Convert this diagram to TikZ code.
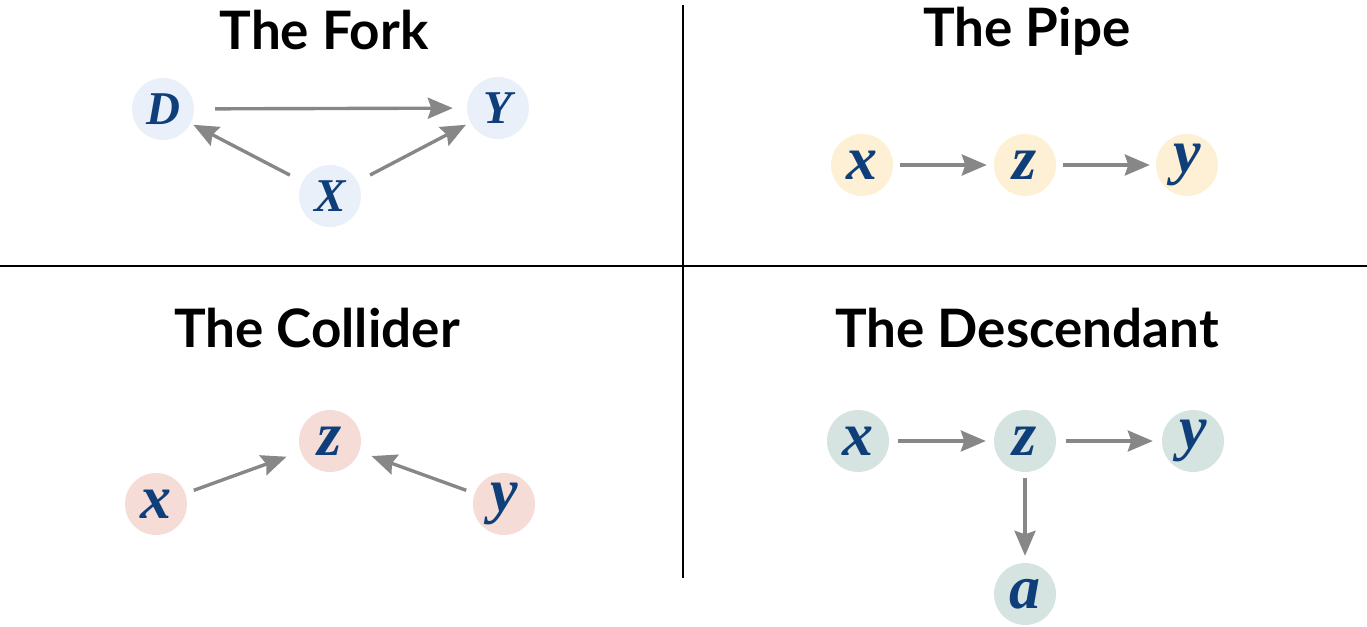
\documentclass[tikz,border=0pt]{standalone}
\usepackage{fontspec}
\usetikzlibrary{arrows.meta}
\newfontfamily\titlefont{Lato}
\newfontfamily\varfont{Liberation Serif}
\definecolor{forkc}{HTML}{EAF0F9}
\definecolor{pipec}{HTML}{FDF0D5}
\definecolor{collc}{HTML}{F5DCD6}
\definecolor{descc}{HTML}{D5E3E1}
\definecolor{varc}{HTML}{0F3F7A}
\definecolor{arrc}{HTML}{878787}
\tikzset{
  var/.style={circle, minimum size=62pt, inner sep=0pt, text=varc,
    font=\varfont\bfseries\itshape\fontsize{62}{62}\selectfont},
  capvar/.style={var, font=\varfont\bfseries\itshape\fontsize{47}{47}\selectfont},
  title/.style={font=\titlefont\bfseries\fontsize{53}{53}\selectfont, text=black, inner sep=0pt},
  edge/.style={draw=arrc, line width=3.4pt, -{Stealth[length=25pt,width=21pt,inset=3.5pt]}},
  sep/.style={draw=black, line width=2.6pt}
}
\begin{document}
\begin{tikzpicture}[x=1pt,y=-1pt]
\useasboundingbox (0,0) rectangle (1367,626);
% separators
\coordinate (vt) at (683,5);
\coordinate (vb) at (683,578);
\coordinate (hl) at (0,266);
\coordinate (hr) at (1367,266);
\draw[sep] (vt) -- (vb);
\draw[sep] (hl) -- (hr);
% titles
\node[title] (t1) at (324,30) {The Fork};
\node[title] (t2) at (1027,31) {The Pipe};
\node[title] (t3) at (317,328) {The Collider};
\node[title] (t4) at (1027,328) {The Descendant};
% Fork
\node[capvar, fill=forkc] (fD) at (163,109) {D};
\node[capvar, fill=forkc] (fY) at (498,108) {Y};
\node[capvar, fill=forkc] (fX) at (330,196) {X};
\draw[edge, shorten <=21pt, shorten >=14pt] (fD) -- (fY);
\draw[edge, shorten <=14pt, shorten >=3pt] (fX) -- (fD);
\draw[edge, shorten <=14pt, shorten >=5pt] (fX) -- (fY);
% Pipe
\node[var, fill=pipec] (px) at (862,165) {x};
\node[var, fill=pipec] (pz) at (1025,165) {z};
\node[var, fill=pipec] (py) at (1187,165) {y};
\draw[edge, shorten <=7pt, shorten >=7pt] (px) -- (pz);
\draw[edge, shorten <=7pt, shorten >=6pt] (pz) -- (py);
% Collider
\node[var, fill=collc] (cz) at (330,441) {z};
\node[var, fill=collc] (cx) at (156,504) {x};
\node[var, fill=collc] (cy) at (504,504) {y};
\draw[edge, shorten <=9pt, shorten >=15pt] (cx) -- (cz);
\draw[edge, shorten <=9pt, shorten >=13pt] (cy) -- (cz);
% Descendant
\node[var, fill=descc] (dx) at (858,441) {x};
\node[var, fill=descc] (dz) at (1025,441) {z};
\node[var, fill=descc] (dy) at (1193,441) {y};
\node[var, fill=descc] (da) at (1025,594) {a};
\draw[edge, shorten <=9pt, shorten >=8pt] (dx) -- (dz);
\draw[edge, shorten <=10pt, shorten >=9pt] (dz) -- (dy);
\draw[edge, shorten <=6pt, shorten >=7pt] (dz) -- (da);
\end{tikzpicture}
\end{document}
